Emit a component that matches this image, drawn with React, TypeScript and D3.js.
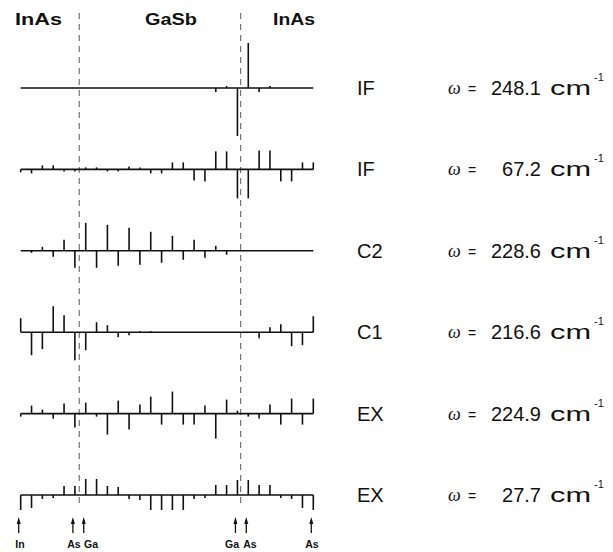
import React from "react"
import * as d3 from "d3"

// atom sites along the superlattice (28 planes)
const sites = d3.range(28)

// displacement amplitudes per mode (up = positive)
const modeIF248 = [0, 0, 0, 0, 0, 0, 0, 0, 0, 0, 0, 0, 0, 0, 0, 0, 0, 0, -4, 2, -48, 45, -4, 2, 0, 0, 0, 0]
const modeIF67 = [-3, -4, 4, 4, -2, -2, 2, 2, -2, -2, 3, 2, -4, -4, 7, 7, -11, -12, 18, 18, -29, -29, 19, 19, -12, -12, 7, 7]
const modeC2 = [0, -2, 4, -6, 11, -17, 28, -17, 26, -15, 23, -14, 19, -12, 15, -9, 11, -7, 5, -4, 0, 0, 0, 0, 0, 0, 0, 0]
const modeC1 = [14, -23, -17, 26, 17, -28, -18, 10, 7, -5, -3, 1, 1, 0, 0, 0, 0, 0, 0, 0, 0, 0, -6, 5, 8, -14, -13, 16]
const modeEX225 = [-3, 8, 4, -5, 10, -14, 11, -3, -21, 13, -16, 9, 17, -11, 22, -11, -11, 8, -25, 14, 3, -3, -5, 9, -11, 15, -11, 15]
const modeEX28 = [-15, -13, -4, -3, 9, 9, 16, 16, 9, 8, -4, -5, -15, -15, -15, -15, -4, -3, 10, 10, 15, 15, 10, 10, -3, -4, -13, -15]

const modes = [modeIF248, modeIF67, modeC2, modeC1, modeEX225, modeEX28]
const modeNames = ["IF", "IF", "C2", "C1", "EX", "EX"]
const freqs = ["248.1", "67.2", "228.6", "216.6", "224.9", "27.7"]

const layerNames = ["InAs", "GaSb", "InAs"]
const interfaces = [5.4, 20.3]
const atomSites = [0, 5, 6, 20, 21, 27]
const atomNames = ["In", "As", "Ga", "Ga", "As", "As"]

export default function App() {
	const w = 613
	const h = 552

	const x = d3.scaleLinear().domain([0, 27]).range([20.7, 313.3])
	const row = d3.scaleLinear().domain([0, 5]).range([88, 495])
	const amp = d3.scaleLinear().domain([-50, 50]).range([50, -50])

	const sans = "'Liberation Sans', Arial, Helvetica, sans-serif"
	const layerX = [[15, 47], [145, 52], [273, 42]]
	const atomLabelX = [20, 74, 91, 232, 250, 312]

	return (
		<svg width={w} height={h} style={{ position: "absolute", left: 0, top: 0, background: "white" }}>
			{/* layer titles */}
			{layerNames.map((t, i) => (
				<text key={"l" + i} x={layerX[i][0]} y={25} textLength={layerX[i][1]} lengthAdjust="spacingAndGlyphs"
					fontFamily={sans} fontWeight="bold" fontSize={17} fill="#111">{t}</text>
			))}

			{/* interface lines */}
			{interfaces.map((p, i) => (
				<line key={"d" + i} x1={x(p)} x2={x(p)} y1={13} y2={508}
					stroke="#444" strokeWidth={0.9} strokeDasharray="6,5" />
			))}

			{modes.map((m, r) => {
				const y0 = row(r)
				return (
					<g key={"r" + r}>
						<line x1={x(0)} x2={x(27)} y1={y0} y2={y0} stroke="#111" strokeWidth={1.6} />
						{sites.map(i => m[i] === 0 ? null : (
							<line key={i} x1={x(i)} x2={x(i)} y1={y0} y2={y0 + amp(m[i])} stroke="#111" strokeWidth={1.6} />
						))}
						<text x={357} y={y0 + 7} fontFamily={sans} fontSize={20} fill="#111">{modeNames[r]}</text>
						<text x={448} y={y0 + 6} fontFamily="'Liberation Serif', 'DejaVu Serif', serif" fontStyle="italic" fontSize={18} fill="#111">ω</text>
						<text x={468} y={y0 + 6} fontFamily={sans} fontSize={14} fill="#111">=</text>
						<text x={541} y={y0 + 7} textAnchor="end" fontFamily={sans} fontSize={20} fill="#111">{freqs[r]}</text>
						<text x={550} y={y0 + 7} textLength={41} lengthAdjust="spacingAndGlyphs" fontFamily={sans} fontSize={21} fill="#111">cm</text>
						<text x={594} y={y0 - 7} fontFamily={sans} fontSize={11} fill="#111">-1</text>
					</g>
				)
			})}

			{/* atom markers */}
			{atomSites.map((s, i) => (
				<g key={"a" + i}>
					<line x1={x(s) - 2} x2={x(s) - 2} y1={520} y2={533} stroke="#111" strokeWidth={1.3} />
					<path d={`M${x(s) - 4},${524} L${x(s) - 2},${517} L${x(s)},${524} Z`} fill="#111" />
					<text x={atomLabelX[i]} y={548} textAnchor="middle" fontFamily={sans} fontWeight="bold" fontSize={10.5} fill="#111">{atomNames[i]}</text>
				</g>
			))}
		</svg>
	)
}
